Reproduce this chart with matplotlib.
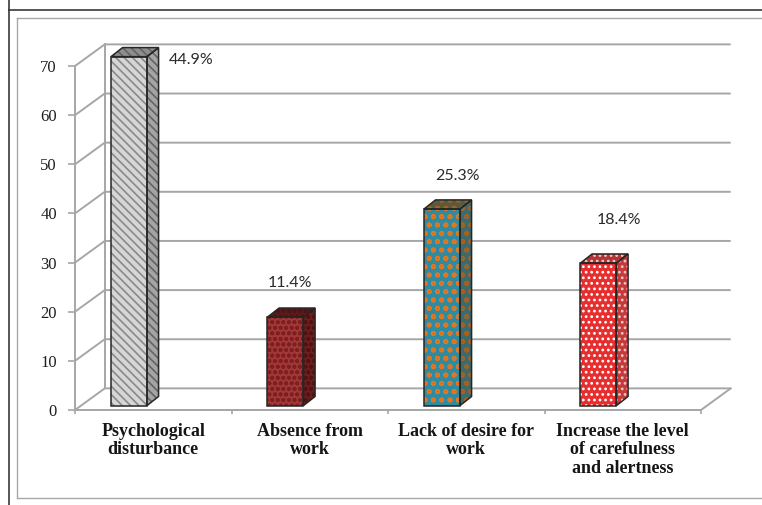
import matplotlib

matplotlib.use("Agg")
import matplotlib.pyplot as plt
from matplotlib.lines import Line2D
from matplotlib.patches import Polygon

categories = [
    "Psychological\ndisturbance",
    "Absence from\nwork",
    "Lack of desire for\nwork",
    "Increase the level\nof carefulness\nand alertness",
]
counts = [71, 18, 40, 29]
percent_labels = ["44.9%", "11.4%", "25.3%", "18.4%"]
y_ticks = [0, 10, 20, 30, 40, 50, 60, 70]

# per bar: front, side, top colour, hatch, hatch colour (front), hatch colour (side/top)
bar_faces = [
    ("#d6d6d6", "#a4a4a4", "#8e8e8e", "\\\\\\\\", "#8a8a8a", "#646464"),
    ("#a53636", "#6f1e1e", "#5e1919", "ooo", "#7a2020", "#501212"),
    ("#2f8ba2", "#3d6b6d", "#5a5a3e", "oo", "#e2771f", "#a8621f"),
    ("#e62e2e", "#c43a3a", "#b23434", "...", "#ffffff", "#f2c4c4"),
]
# where each percent label sits relative to its bar (x shift, y shift)
label_shift = [(0.40, -0.6), (0.03, 7.0), (0.10, 6.7), (0.13, 8.8)]

WALL_DX, WALL_DY = 0.19, 4.4
BAR_POS, BAR_W = 0.345, 0.23
BAR_DX, BAR_DY, BAR_LIFT = 0.074, 1.85, 0.9
GRID = "#a6a6a6"
EDGE = "#262626"

fig = plt.figure(figsize=(7.62, 5.05), dpi=100)
ax = fig.add_axes([75 / 762, 95 / 505, 626 / 762, 344 / 505])
ax.set_xlim(0, len(categories))
ax.set_ylim(0, 70)

for side in ("top", "right"):
    ax.spines[side].set_visible(False)
for side in ("left", "bottom"):
    ax.spines[side].set_color(GRID)
    ax.spines[side].set_linewidth(1.4)

# back wall gridlines drawn as oblique 3D lines
n = len(categories)
for v in y_ticks:
    ax.plot([0, WALL_DX, n + WALL_DX], [v, v + WALL_DY, v + WALL_DY],
            color=GRID, lw=1.4, clip_on=False, zorder=1, solid_capstyle="butt")
ax.plot([WALL_DX, WALL_DX], [WALL_DY, 70 + WALL_DY], color=GRID, lw=1.4, clip_on=False, zorder=1)
ax.plot([n, n + WALL_DX], [0, WALL_DY], color=GRID, lw=1.4, clip_on=False, zorder=1)


def face(verts, fc, hatch, hc, z):
    ax.add_patch(Polygon(verts, closed=True, fc=fc, ec="none", clip_on=False, zorder=z))
    with plt.rc_context({"hatch.linewidth": 1.2}):
        ax.add_patch(Polygon(verts, closed=True, fc="none", ec=hc, hatch=hatch, lw=0,
                             clip_on=False, zorder=z + 0.1))
    ax.add_patch(Polygon(verts, closed=True, fc="none", ec=EDGE, lw=1.1,
                         clip_on=False, zorder=z + 0.2))


for i, v in enumerate(counts):
    front, sidec, topc, hatch, hc, hc2 = bar_faces[i]
    x0 = i + BAR_POS - BAR_W / 2
    x1 = i + BAR_POS + BAR_W / 2
    b, t = BAR_LIFT, BAR_LIFT + v
    with plt.rc_context({"hatch.linewidth": 1.2}):
        ax.bar(i + BAR_POS, v, BAR_W, bottom=b, color=front, edgecolor="none", zorder=3,
               clip_on=False)
        ax.bar(i + BAR_POS, v, BAR_W, bottom=b, color="none", edgecolor=hc,
               hatch=hatch, lw=0, zorder=3.1, clip_on=False)
    ax.bar(i + BAR_POS, v, BAR_W, bottom=b, color="none", edgecolor=EDGE, lw=1.1, zorder=3.2,
           clip_on=False)
    face([(x1, b), (x1 + BAR_DX, b + BAR_DY), (x1 + BAR_DX, t + BAR_DY), (x1, t)],
         sidec, hatch, hc2, 3)
    face([(x0, t), (x0 + BAR_DX, t + BAR_DY), (x1 + BAR_DX, t + BAR_DY), (x1, t)],
         topc, hatch, hc2, 3)
    dx, dy = label_shift[i]
    ax.text(i + BAR_POS + dx, v + dy + BAR_LIFT, percent_labels[i], ha="center", va="center",
            fontsize=11.5, family="Lato", color="#2a2a2a", zorder=5)

ax.set_yticks(y_ticks)
ax.set_yticklabels([str(t) for t in y_ticks], family="Liberation Serif", fontsize=12,
                   color="#1e1e1e")
ax.tick_params(axis="y", direction="out", length=5, width=1.2, color=GRID, pad=8)

ax.set_xticks(range(n + 1))
ax.set_xticklabels([""] * (n + 1))
ax.tick_params(axis="x", which="major", direction="out", length=3, width=1.2, color=GRID)
ax.set_xticks([i + 0.5 for i in range(n)], minor=True)
ax.set_xticklabels(categories, minor=True, family="Liberation Serif", fontweight="bold",
                   fontsize=13, color="#151515", linespacing=1.15, va="top")
ax.tick_params(axis="x", which="minor", length=0, pad=9)

# chart frames (open on the right, like the cropped original)
W, H = 762.0, 505.0
frame_lines = [
    ([8.5, 8.5], [0, 9.5], "#3a3a3a", 1.2),
    ([8.5, W], [9.5, 9.5], "#3a3a3a", 1.2),
    ([16.5, 16.5], [18, 497.5], "#a8a8a8", 1.0),
    ([16.5, W], [18, 18], "#a8a8a8", 1.0),
    ([16.5, W], [497.5, 497.5], "#a8a8a8", 1.0),
]
for xs, ys, c, lw in frame_lines:
    fig.add_artist(Line2D([x / W for x in xs], [1 - y / H for y in ys],
                          transform=fig.transFigure, color=c, lw=lw))
fig.add_artist(Line2D([8.5 / W, 8.5 / W], [0, 1 - 9.5 / H], transform=fig.transFigure,
                      color="#3a3a3a", lw=1.2))

fig.savefig("out.png", dpi=100)
